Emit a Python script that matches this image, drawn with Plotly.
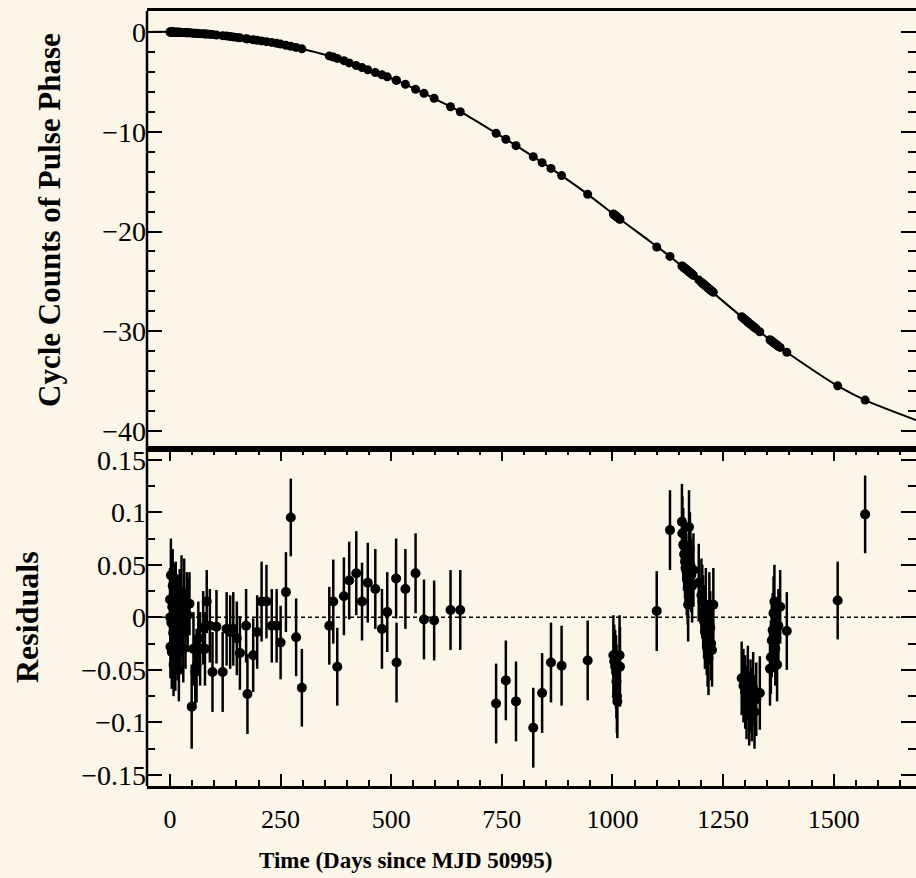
import plotly.graph_objects as go
from plotly.subplots import make_subplots

# ---------------- data ----------------
t_days = [0, 0.5, 1, 2, 3, 4, 5, 6, 7, 8,
          9, 10, 11, 12, 13, 15, 16, 17, 19, 20,
          22, 24, 26, 28, 30, 32, 35, 38, 40, 44,
          49, 53, 57, 60, 64, 68, 75, 79, 83, 90,
          96, 105, 119, 128, 136, 143, 151, 158, 172, 175,
          188, 197, 207, 218, 230, 241, 250, 262, 273, 285,
          298, 360, 369, 378, 393, 405, 421, 434, 447, 464,
          479, 491, 511, 512, 532, 555, 574, 597, 634, 656,
          737, 759, 782, 821, 841, 861, 885, 944, 1002, 1004,
          1006, 1008, 1009, 1010, 1011, 1016, 1017, 1100, 1130, 1157,
          1158, 1160, 1162, 1164, 1165, 1167, 1168, 1170, 1171, 1173,
          1175, 1176, 1178, 1180, 1183, 1195, 1201, 1203, 1205, 1207,
          1209, 1211, 1213, 1215, 1217, 1219, 1221, 1223, 1225, 1228,
          1292, 1296, 1300, 1303, 1306, 1309, 1312, 1315, 1318, 1321,
          1325, 1333, 1356, 1358, 1360, 1362, 1364, 1366, 1368, 1370,
          1372, 1375, 1379, 1394, 1509, 1571]

residuals = [0.017, 0.000, -0.028, 0.040, -0.005, -0.033, 0.010, 0.030, -0.015, -0.045,
             0.005, 0.022, -0.020, -0.040, 0.018, -0.008, 0.011, -0.030, 0.005, -0.050,
             0.011, -0.012, 0.024, -0.008, -0.030, 0.021, -0.014, 0.013, 0.002, 0.013,
             -0.085, -0.030, -0.052, -0.046, -0.020, -0.030, -0.010, -0.030, 0.015, -0.008,
             -0.052, -0.009, -0.052, -0.011, -0.014, -0.011, -0.020, -0.034, -0.008, -0.073,
             -0.036, -0.014, 0.015, 0.015, -0.008, -0.008, -0.024, 0.024, 0.095, -0.019,
             -0.067, -0.008, 0.015, -0.047, 0.020, 0.035, 0.042, 0.015, 0.033, 0.027,
             -0.011, 0.005, 0.037, -0.043, 0.027, 0.042, -0.002, -0.003, 0.007, 0.007,
             -0.082, -0.060, -0.080, -0.105, -0.072, -0.043, -0.046, -0.041, -0.036, -0.042,
             -0.047, -0.052, -0.061, -0.075, -0.080, -0.036, -0.047, 0.006, 0.083, 0.091,
             0.080, 0.069, 0.060, 0.053, 0.047, 0.044, 0.037, 0.028, 0.012, 0.086,
             0.065, 0.050, 0.040, 0.030, 0.045, 0.033, 0.021, 0.015, 0.005, -0.004,
             -0.014, 0.012, -0.020, -0.031, -0.039, 0.008, -0.010, -0.025, -0.031, 0.012,
             -0.058, -0.065, -0.071, -0.081, -0.062, -0.087, -0.075, -0.083, -0.068, -0.090,
             -0.078, -0.072, -0.049, -0.038, -0.022, -0.012, 0.004, 0.015, -0.030, -0.020,
             -0.045, -0.008, 0.010, -0.013, 0.016, 0.098]

resid_err = [0.030, 0.028, 0.030, 0.035, 0.030, 0.035, 0.030, 0.035, 0.030, 0.030,
             0.035, 0.030, 0.032, 0.030, 0.035, 0.033, 0.030, 0.030, 0.035, 0.030,
             0.035, 0.035, 0.035, 0.030, 0.032, 0.035, 0.035, 0.030, 0.035, 0.030,
             0.040, 0.035, 0.035, 0.035, 0.035, 0.035, 0.035, 0.035, 0.030, 0.035,
             0.038, 0.035, 0.038, 0.035, 0.035, 0.035, 0.035, 0.035, 0.035, 0.038,
             0.035, 0.035, 0.038, 0.035, 0.035, 0.035, 0.035, 0.038, 0.037, 0.037,
             0.037, 0.037, 0.040, 0.037, 0.037, 0.037, 0.040, 0.037, 0.038, 0.038,
             0.038, 0.038, 0.038, 0.038, 0.038, 0.038, 0.038, 0.038, 0.038, 0.038,
             0.038, 0.038, 0.038, 0.038, 0.038, 0.038, 0.038, 0.038, 0.038, 0.035,
             0.035, 0.035, 0.035, 0.035, 0.035, 0.038, 0.038, 0.038, 0.038, 0.036,
             0.035, 0.035, 0.035, 0.035, 0.035, 0.035, 0.035, 0.035, 0.035, 0.035,
             0.035, 0.035, 0.035, 0.035, 0.035, 0.037, 0.035, 0.035, 0.035, 0.035,
             0.035, 0.035, 0.035, 0.035, 0.035, 0.035, 0.035, 0.035, 0.035, 0.035,
             0.035, 0.035, 0.035, 0.035, 0.035, 0.035, 0.035, 0.035, 0.035, 0.035,
             0.035, 0.035, 0.035, 0.035, 0.035, 0.035, 0.035, 0.035, 0.035, 0.035,
             0.035, 0.035, 0.035, 0.037, 0.037, 0.037]

phase = [0.00, 0.00, 0.00, 0.00, -0.01, -0.01, -0.01, -0.01, -0.01, -0.01,
         -0.02, -0.02, -0.02, -0.02, -0.02, -0.03, -0.03, -0.03, -0.03, -0.04,
         -0.04, -0.04, -0.05, -0.05, -0.06, -0.06, -0.07, -0.08, -0.08, -0.09,
         -0.11, -0.12, -0.13, -0.14, -0.15, -0.17, -0.19, -0.20, -0.21, -0.24,
         -0.26, -0.30, -0.37, -0.41, -0.46, -0.50, -0.55, -0.59, -0.68, -0.70,
         -0.78, -0.84, -0.90, -0.97, -1.05, -1.14, -1.22, -1.34, -1.44, -1.55,
         -1.69, -2.40, -2.52, -2.65, -2.88, -3.10, -3.37, -3.57, -3.80, -4.07,
         -4.30, -4.50, -4.83, -4.85, -5.25, -5.75, -6.15, -6.65, -7.50, -8.00,
         -10.15, -10.75, -11.40, -12.50, -13.10, -13.68, -14.40, -16.27, -18.25, -18.32,
         -18.40, -18.47, -18.50, -18.54, -18.58, -18.75, -18.78, -21.55, -22.50, -23.45,
         -23.49, -23.56, -23.63, -23.70, -23.74, -23.81, -23.85, -23.92, -23.96, -24.03,
         -24.10, -24.14, -24.21, -24.28, -24.40, -24.85, -25.10, -25.17, -25.25, -25.32,
         -25.40, -25.47, -25.55, -25.62, -25.70, -25.77, -25.85, -25.92, -26.00, -26.10,
         -28.55, -28.70, -28.85, -28.96, -29.07, -29.18, -29.29, -29.40, -29.51, -29.62,
         -29.76, -30.05, -30.85, -30.92, -30.99, -31.06, -31.13, -31.20, -31.27, -31.33,
         -31.40, -31.50, -31.62, -32.10, -35.47, -36.90]

model_t = [-52, 0, 53, 100, 166, 230, 294, 354, 429, 520, 603, 659, 738, 821,
           885, 945, 1009, 1085, 1130, 1171, 1213, 1315, 1363, 1394, 1510, 1571, 1686]
model_phase = [0.0, 0.0, -0.13, -0.28, -0.64, -1.05, -1.65, -2.32, -3.5, -5.0, -6.8,
               -8.05, -10.17, -12.5, -14.4, -16.3, -18.5, -21.0, -22.5, -24.0, -25.6,
               -29.4, -31.1, -32.1, -35.5, -36.9, -38.9]

x_title = "Time (Days since MJD 50995)"
y_title_top = "Cycle Counts of Pulse Phase"
y_title_bottom = "Residuals"

# ---------------- figure ----------------
BG = "#FBF6E7"
FONT = "Liberation Serif"

fig = make_subplots(rows=2, cols=1, shared_xaxes=True, vertical_spacing=0,
                    row_heights=[438, 337])

fig.add_trace(go.Scatter(x=model_t, y=model_phase, mode="lines",
                         line=dict(color="black", width=2, shape="spline", smoothing=0.8),
                         hoverinfo="skip", showlegend=False), row=1, col=1)
fig.add_trace(go.Scatter(x=t_days, y=phase, mode="markers",
                         marker=dict(color="black", size=9),
                         showlegend=False), row=1, col=1)
fig.add_trace(go.Scatter(x=t_days, y=residuals, mode="markers",
                         marker=dict(color="black", size=10),
                         error_y=dict(type="data", array=resid_err, visible=True,
                                      color="black", thickness=2.5, width=0),
                         showlegend=False), row=2, col=1)

xr = [-52, 1686]
xcommon = dict(showgrid=False, zeroline=False, showline=True, linecolor="black",
               linewidth=2.5, tickcolor="black")
ycommon = dict(showgrid=False, zeroline=False, showline=False, tickcolor="black")

fig.update_xaxes(range=xr, mirror=True, ticks="", showticklabels=False,
                 row=1, col=1, **xcommon)
fig.update_xaxes(range=xr, mirror="ticks", ticks="inside", ticklen=12, tickwidth=2,
                 tick0=0, dtick=250,
                 minor=dict(ticks="inside", ticklen=6, tickwidth=1.5, dtick=50,
                            tickcolor="black"),
                 tickfont=dict(family=FONT, size=26, color="black"),
                 ticklabelstandoff=8,
                 row=2, col=1, **xcommon)
fig.update_yaxes(range=[-41.8, 2.1], mirror="ticks", ticks="inside", ticklen=15,
                 tickwidth=2, tick0=0, dtick=10,
                 minor=dict(ticks="inside", ticklen=8, tickwidth=1.5, dtick=2,
                            tickcolor="black"),
                 tickfont=dict(family=FONT, size=28, color="black"),
                 row=1, col=1, **ycommon)
fig.update_yaxes(range=[-0.1605, 0.1602], mirror="ticks", ticks="inside", ticklen=15,
                 tickwidth=2, tick0=0, dtick=0.05,
                 minor=dict(ticks="inside", ticklen=8, tickwidth=1.5, dtick=0.025,
                            tickcolor="black"),
                 tickfont=dict(family=FONT, size=28, color="black"),
                 row=2, col=1, **ycommon)

# left frame edge (the right edge lies outside the cropped picture)
fig.add_shape(type="line", xref="paper", x0=0, x1=0, yref="paper", y0=0, y1=1,
              line=dict(color="black", width=2.5))
fig.add_shape(type="line", xref="x2 domain", x0=0, x1=1, yref="y2", y0=0, y1=0,
              line=dict(color="black", width=1.5, dash="4px,3px"), layer="below")

W, H = 916, 878
L, R, T, B = 147, 0, 11, 92
pw, ph = W - L - R, H - T - B


def px_x(px):
    return (px - L) / pw


def px_y(py):
    return (H - B - py) / ph


fig.add_annotation(text="<b>%s</b>" % y_title_top, xref="paper", yref="paper",
                   x=px_x(50), y=px_y(220), xanchor="center", yanchor="middle",
                   textangle=-90, showarrow=False,
                   font=dict(family=FONT, size=31, color="black"))
fig.add_annotation(text="<b>%s</b>" % y_title_bottom, xref="paper", yref="paper",
                   x=px_x(27), y=px_y(617), xanchor="center", yanchor="middle",
                   textangle=-90, showarrow=False,
                   font=dict(family=FONT, size=32, color="black"))
fig.add_annotation(text="<b>%s</b>" % x_title, xref="paper", yref="paper",
                   x=px_x(405), y=px_y(860), xanchor="center", yanchor="middle",
                   showarrow=False,
                   font=dict(family=FONT, size=23, color="black"))

fig.update_layout(width=W, height=H, margin=dict(l=L, r=R, t=T, b=B),
                  paper_bgcolor=BG, plot_bgcolor=BG, showlegend=False)

fig.write_html("out.html")
